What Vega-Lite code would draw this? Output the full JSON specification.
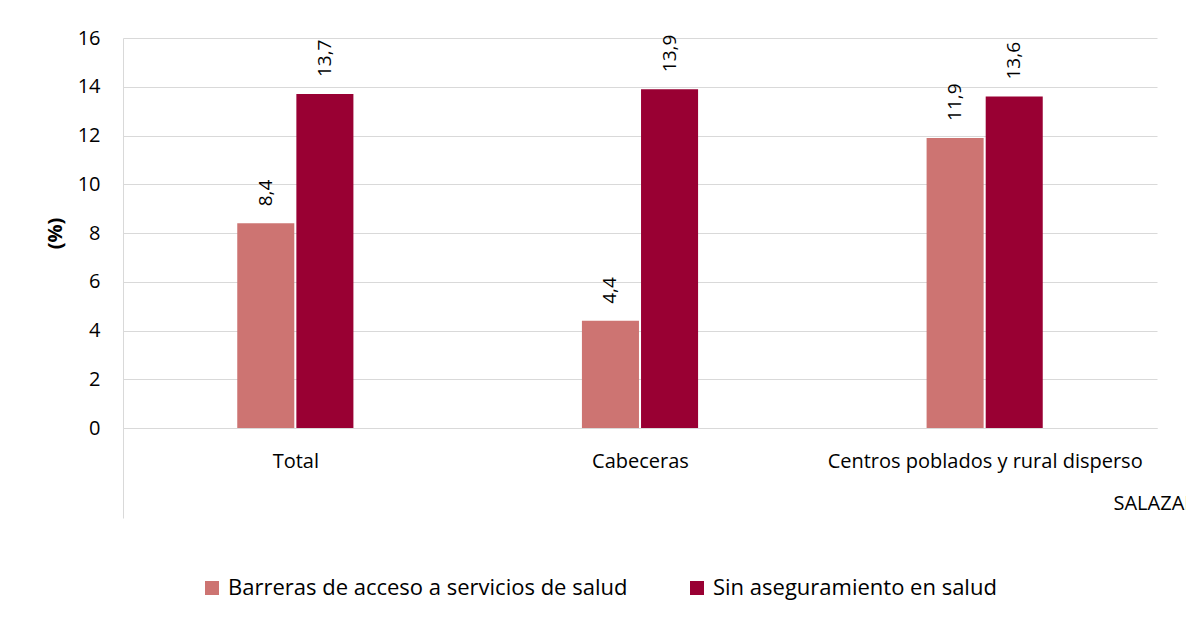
{
  "$schema": "https://vega.github.io/schema/vega-lite/v6.json",
  "width": 1034,
  "height": 390,
  "autosize": {"type": "none"},
  "padding": {"left": 123, "top": 38, "right": 29, "bottom": 192},
  "background": "white",
  "config": {
    "locale": {"number": {"decimal": ",", "thousands": ".", "grouping": [3], "currency": ["", " €"]}},
    "view": {"stroke": null},
    "font": "Open Sans"
  },
  "data": {
    "values": [
      {"categoria": "Total", "serie": "Barreras de acceso a servicios de salud", "valor": 8.4},
      {"categoria": "Total", "serie": "Sin aseguramiento en salud", "valor": 13.7},
      {"categoria": "Cabeceras", "serie": "Barreras de acceso a servicios de salud", "valor": 4.4},
      {"categoria": "Cabeceras", "serie": "Sin aseguramiento en salud", "valor": 13.9},
      {"categoria": "Centros poblados y rural disperso", "serie": "Barreras de acceso a servicios de salud", "valor": 11.9},
      {"categoria": "Centros poblados y rural disperso", "serie": "Sin aseguramiento en salud", "valor": 13.6}
    ]
  },
  "encoding": {
    "x": {
      "field": "categoria", "type": "nominal", "sort": null,
      "scale": {"paddingInner": 0.663, "paddingOuter": 0.3315},
      "axis": {
        "title": "SALAZAR", "titleAnchor": "start", "titleAlign": "left", "titleX": 990, "titleY": 75,
        "titleBaseline": "middle", "titleFontSize": 20, "titleFontWeight": "normal", "titleColor": "#000",
        "labelAngle": 0, "labelFontSize": 20, "labelColor": "#000", "labelPadding": -67, "labelLimit": 0,
        "bandPosition": 0, "tickOffset": -114.3, "labelOffset": 114.3, "tickSize": 90,
        "tickColor": {"condition": {"test": "datum.value === 'Total'", "value": "#d9d9d9"}, "value": "transparent"},
        "domainColor": "#d9d9d9"
      }
    },
    "xOffset": {"field": "serie", "type": "nominal", "sort": null, "scale": {"paddingInner": 0.035}},
    "y": {
      "field": "valor", "type": "quantitative",
      "scale": {"domain": [0, 16]},
      "axis": {
        "title": "(%)", "titleFontSize": 20, "titleFontWeight": "bold", "titleColor": "#000", "titlePadding": 12,
        "labelFontSize": 20, "labelColor": "#000", "labelPadding": 23, "ticks": false,
        "domainColor": "#d9d9d9", "gridColor": "#d9d9d9",
        "values": [0, 2, 4, 6, 8, 10, 12, 14, 16]
      }
    }
  },
  "layer": [
    {
      "mark": {"type": "bar"},
      "encoding": {
        "color": {
          "field": "serie", "type": "nominal", "sort": null,
          "scale": {"domain": ["Barreras de acceso a servicios de salud", "Sin aseguramiento en salud"], "range": ["#CD7472", "#990033"]},
          "legend": {
            "orient": "none", "direction": "horizontal", "legendX": 78, "legendY": 539, "title": null,
            "symbolType": "square", "symbolSize": 196, "symbolStrokeWidth": 0, "labelLimit": 0,
            "labelFontSize": 22, "labelColor": "#000", "columnPadding": 58, "labelOffset": 5, "padding": 0
          }
        }
      }
    },
    {
      "mark": {"type": "text", "angle": -90, "align": "left", "baseline": "middle", "dx": 17, "fontSize": 19, "color": "#000"},
      "encoding": {
        "text": {"field": "valor", "type": "quantitative", "format": ".1f"}
      }
    }
  ]
}
